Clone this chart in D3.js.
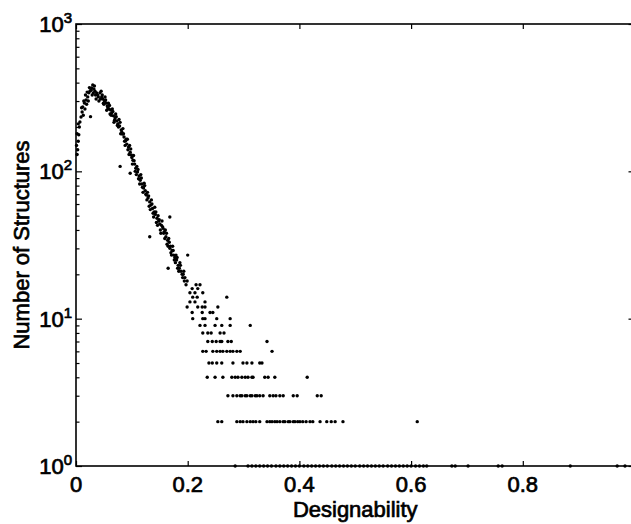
<!DOCTYPE html>
<html>
<head>
<meta charset="utf-8">
<script src="https://cdn.jsdelivr.net/npm/d3@7"></script>
<style>
  html, body { margin: 0; padding: 0; background: #fff; }
  svg { display: block; }
  text { font-family: "Liberation Sans", Arial, Helvetica, sans-serif; fill: #000; }
</style>
</head>
<body>
<script>
// Continuous part of the distribution: number of structures per designability value.
const ridgeX = [0.003,0.005,0.006,0.007,0.009,0.011,0.012,0.015,0.018,0.021,0.023,0.025,0.028,0.030,0.032,0.034,0.037,0.039,0.043,0.046,0.048,0.051,0.054,0.056,0.059,0.062,0.064,0.067,0.070,0.073,0.075,0.078,0.081,0.083,0.086,0.089,0.091,0.094,0.097,0.099,0.102,0.105,0.107,0.110,0.113,0.115,0.118,0.121,0.124,0.126,0.129,0.132,0.134,0.137,0.140,0.142,0.145,0.148,0.150,0.153,0.156,0.158,0.161,0.164,0.167,0.169,0.172,0.175,0.177,0.180,0.183,0.185,0.188,0.192,0.195,0.199];
const ridgeY = [140,177,200,216,234,253,274,291,305,320,341,351,368,386,362,350,341,330,341,320,310,300,291,278,265,261,249,238,230,220,210,203,191,179,171,161,153,146,135,129,119,112,105,99,93,87,82,77,74,69,66,62,59,56,53,51,48,46,44,43,41,39,36,34,33,31,29,27,26,25,23,22,21,20,19,18];

const spreadX = [0.002,0.004,0.010,0.014,0.017,0.020,0.024,0.027,0.031,0.035,0.040,0.044,0.047,0.050,0.053,0.057,0.060,0.063,0.066,0.069,0.072,0.076,0.079,0.082,0.085,0.088,0.090,0.093,0.096,0.100,0.103,0.106,0.109,0.112,0.116,0.119,0.122,0.125,0.128,0.131,0.135,0.138,0.141,0.144,0.147,0.151,0.154,0.157,0.160,0.163,0.166,0.170,0.173,0.176,0.179,0.182,0.186,0.190,0.193,0.197];
const spreadY = [130,160,270,300,330,345,370,355,340,330,320,310,330,285,305,270,280,240,255,222,235,200,215,185,180,150,165,140,150,124,128,100,108,89,95,78,83,70,72,58,64,52,57,45,50,40,46,38,40,32,35,28,31,25,27,22,24,20,21,17];

const sideX = [0.001,0.002,0.004,0.013,0.016,0.019,0.022,0.029,0.033,0.036,0.041,0.045,0.049,0.052,0.055,0.058,0.061,0.065,0.068,0.071,0.074,0.077,0.080,0.084,0.087,0.092,0.095,0.098,0.101,0.104,0.108,0.111,0.114,0.117,0.120,0.123,0.127,0.130,0.133,0.136,0.139,0.143,0.146,0.149,0.152,0.155,0.159,0.162,0.165,0.168,0.171,0.174,0.178,0.181,0.184,0.187,0.191,0.194];
const sideY = [150,180,210,240,265,285,300,330,380,310,300,350,290,320,260,290,245,265,215,245,205,225,180,195,160,165,130,142,112,118,95,103,82,90,72,80,64,68,55,60,49,53,43,47,38,42,35,38,31,30,27,29,24,26,21,23,19,18];

const outlierX = [0.026,0.079,0.097,0.132,0.165,0.168,0.200];
const outlierY = [235,108,97,36,22,49,27];

// Tail of the distribution: designability values sharing the same small count.
const count17 = [0.215,0.222];
const count16 = [0.208,0.218];
const count15 = [0.204,0.213,0.227];
const count14 = [0.209,0.217,0.270];
const count13 = [0.204,0.213,0.231];
const count12 = [0.199,0.218,0.226,0.231,0.254];
const count11 = [0.208,0.226,0.240,0.245];
const count10 = [0.209,0.227,0.231,0.252,0.276];
const count9  = [0.222,0.231,0.249,0.261,0.276,0.312];
const count8  = [0.227,0.236,0.242,0.258,0.265];
const count7  = [0.236,0.244,0.251,0.258,0.261,0.272,0.278,0.342];
const count6  = [0.227,0.233,0.245,0.252,0.258,0.263,0.270,0.276,0.281,0.288,0.294,0.351];
const count5  = [0.238,0.244,0.252,0.261,0.281,0.299,0.306,0.315,0.329,0.333];
const count4  = [0.235,0.249,0.263,0.279,0.285,0.290,0.297,0.303,0.308,0.315,0.317,0.338,0.344,0.356,0.414];
const count3  = [0.272,0.281,0.288,0.294,0.297,0.303,0.306,0.312,0.315,0.321,0.324,0.329,0.335,0.347,0.353,0.358,0.365,0.371,0.389,0.396,0.432,0.439];
const count2  = [0.254,0.261,0.288,0.294,0.299,0.306,0.312,0.317,0.322,0.329,0.342,0.347,0.351,0.356,0.360,0.365,0.371,0.374,0.380,0.383,0.389,0.392,0.397,0.401,0.406,0.412,0.419,0.424,0.437,0.449,0.457,0.464,0.478,0.611];
const count1  = [0.285,0.308,0.315,0.322,0.329,0.336,0.343,0.350,0.358,0.365,0.372,0.379,0.386,0.393,0.400,0.408,0.415,0.422,0.429,0.436,0.443,0.450,0.458,0.465,0.472,0.479,0.486,0.493,0.500,0.508,0.515,0.522,0.529,0.536,0.543,0.550,0.558,0.565,0.572,0.579,0.586,0.593,0.600,0.608,0.615,0.622,0.628,0.673,0.679,0.702,0.756,0.763,0.885,0.969,0.983];

const xTicks = [0, 0.2, 0.4, 0.6, 0.8, 1.0];
const xTickLabels = ["0", "0.2", "0.4", "0.6", "0.8"];
const yMajor = [1, 10, 100, 1000];
const yExponents = ["0", "1", "2", "3"];
const xTitle = "Designability";
const yTitle = "Number of Structures";

// Assemble points
const points = [];
ridgeX.forEach((v, i) => points.push([v, ridgeY[i]]));
spreadX.forEach((v, i) => points.push([v, spreadY[i]]));
sideX.forEach((v, i) => points.push([v, sideY[i]]));
outlierX.forEach((v, i) => points.push([v, outlierY[i]]));
const tail = [[17,count17],[16,count16],[15,count15],[14,count14],[13,count13],[12,count12],[11,count11],[10,count10],[9,count9],[8,count8],[7,count7],[6,count6],[5,count5],[4,count4],[3,count3],[2,count2],[1,count1]];
tail.forEach(([c, xs]) => xs.forEach(v => points.push([v, c])));

const W = 631, H = 524;
const plotLeft = 76, plotRight = 634.5, plotTop = 24, plotBottom = 466;

const x = d3.scaleLinear().domain([0, 1]).range([plotLeft, plotRight]);
const y = d3.scaleLog().domain([1, 1000]).range([plotBottom, plotTop]);

const svg = d3.select("body").append("svg").attr("width", W).attr("height", H);

// Minor tick values for the log axis
const yMinor = [];
for (let d = 1; d < 1000; d *= 10) for (let k = 2; k <= 9; k++) yMinor.push(d * k);

function styleAxis(g) {
  g.select(".domain").remove();
  g.selectAll(".tick line").attr("stroke", "#000").attr("stroke-width", 1.2);
  g.selectAll(".tick text").remove();
}

// Ticks (pointing inward) on all four sides
svg.append("g").attr("transform", `translate(0,${plotBottom})`)
  .call(d3.axisBottom(x).tickValues(xTicks).tickSize(-5).tickFormat("")).call(styleAxis);
svg.append("g").attr("transform", `translate(0,${plotTop})`)
  .call(d3.axisTop(x).tickValues(xTicks).tickSize(-5).tickFormat("")).call(styleAxis);
svg.append("g").attr("transform", `translate(${plotLeft},0)`)
  .call(d3.axisLeft(y).tickValues(yMajor).tickSize(-6).tickFormat("")).call(styleAxis);
svg.append("g").attr("transform", `translate(${plotLeft},0)`)
  .call(d3.axisLeft(y).tickValues(yMinor).tickSize(-3.5).tickFormat("")).call(styleAxis);
svg.append("g").attr("transform", `translate(${plotRight},0)`)
  .call(d3.axisRight(y).tickValues(yMajor).tickSize(-6).tickFormat("")).call(styleAxis);
svg.append("g").attr("transform", `translate(${plotRight},0)`)
  .call(d3.axisRight(y).tickValues(yMinor).tickSize(-3.5).tickFormat("")).call(styleAxis);

// Frame
svg.append("rect")
  .attr("x", plotLeft).attr("y", plotTop)
  .attr("width", plotRight - plotLeft).attr("height", plotBottom - plotTop)
  .attr("fill", "none").attr("stroke", "#000").attr("stroke-width", 1.6);

// Data points
svg.append("g").selectAll("circle").data(points).join("circle")
  .attr("cx", d => x(d[0]))
  .attr("cy", d => y(d[1]))
  .attr("r", 1.7)
  .attr("fill", "#000");

// X tick labels
svg.append("g").selectAll("text").data(xTickLabels).join("text")
  .attr("x", (d, i) => x(xTicks[i]))
  .attr("y", plotBottom + 26)
  .attr("text-anchor", "middle")
  .attr("font-size", 22)
  .attr("stroke", "#000").attr("stroke-width", 0.7)
  .text(d => d);

// Y tick labels: 10 with superscript exponent
const yl = svg.append("g").selectAll("text").data(yMajor).join("text")
  .attr("x", plotLeft - 4)
  .attr("y", d => y(d) + 8)
  .attr("text-anchor", "end")
  .attr("font-size", 22)
  .attr("stroke", "#000").attr("stroke-width", 0.7);
yl.append("tspan").text("10");
yl.append("tspan").attr("font-size", 15).attr("dy", -9).text((d, i) => yExponents[i]);

// Axis titles
svg.append("text")
  .attr("x", (plotLeft + plotRight) / 2)
  .attr("y", 517)
  .attr("text-anchor", "middle")
  .attr("font-size", 22)
  .attr("stroke", "#000").attr("stroke-width", 0.7)
  .text(xTitle);

svg.append("text")
  .attr("transform", `translate(29,${(plotTop + plotBottom) / 2}) rotate(-90)`)
  .attr("text-anchor", "middle")
  .attr("font-size", 22)
  .attr("stroke", "#000").attr("stroke-width", 0.7)
  .text(yTitle);
</script>
</body>
</html>
